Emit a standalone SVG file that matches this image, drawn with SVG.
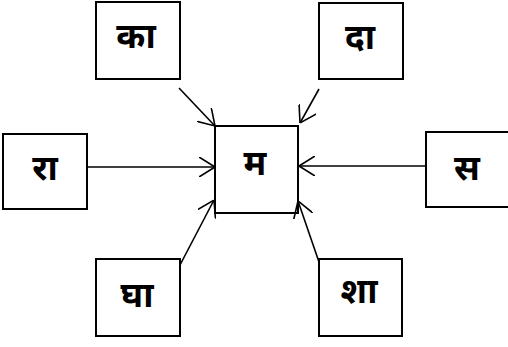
<svg xmlns="http://www.w3.org/2000/svg" width="508" height="347" viewBox="0 0 508 347">
<style>
.box{fill:#fff;stroke:#000;stroke-width:2}
.lbl{font-family:"Noto Sans Devanagari","Noto Sans","Liberation Sans",sans-serif;font-weight:bold;font-size:35px;text-anchor:middle;fill:#000}
.con{stroke:#000;stroke-width:1.6;fill:none;marker-end:url(#ah)}
</style>
<defs>
<marker id="ah" viewBox="0 0 16 20" refX="16" refY="10" markerWidth="16" markerHeight="20" markerUnits="userSpaceOnUse" orient="auto">
<path d="M0,0 L16,10 L0,20" fill="none" stroke="#000" stroke-width="1.6"/>
</marker>
</defs>
<rect width="508" height="347" fill="#fff"/>
<g id="node-ma"><rect class="box" x="215" y="126" width="83" height="87"/><text class="lbl" x="255" y="175">म</text></g>
<g id="node-ka"><rect class="box" x="96" y="2" width="84" height="77"/><text class="lbl" x="136" y="48">का</text></g>
<g id="node-da"><rect class="box" x="319" y="3" width="84" height="76"/><text class="lbl" x="360" y="49">दा</text></g>
<g id="node-ra"><rect class="box" x="3" y="134" width="84" height="75"/><text class="lbl" x="45" y="180">रा</text></g>
<g id="node-sa"><rect class="box" x="426" y="132" width="84" height="75"/><text class="lbl" x="467" y="180">स</text></g>
<g id="node-gha"><rect class="box" x="96" y="259" width="84" height="77"/><text class="lbl" x="137" y="307">घा</text></g>
<g id="node-sha"><rect class="box" x="319" y="259" width="83" height="77"/><text class="lbl" x="359" y="303">शा</text></g>
<g id="connectors">
<line class="con" x1="179" y1="88" x2="215" y2="126"/>
<line class="con" x1="319" y1="89" x2="300" y2="123"/>
<line class="con" x1="87" y1="167" x2="215" y2="167"/>
<line class="con" x1="426" y1="166" x2="299" y2="166"/>
<line class="con" x1="180" y1="265" x2="214" y2="200"/>
<line class="con" x1="319" y1="262" x2="298" y2="201"/>
</g>
</svg>
